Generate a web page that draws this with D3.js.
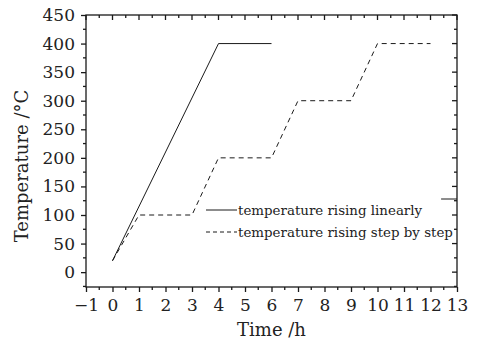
<!DOCTYPE html>
<html>
<head>
<meta charset="utf-8">
<script src="https://cdn.jsdelivr.net/npm/d3@7"></script>
<style>
  body { margin: 0; background: #fff; }
  text { font-family: "DejaVu Serif", serif; fill: #222; }
</style>
</head>
<body>
<div id="chart"></div>
<script>
// Data
const linearTime = [0, 4, 6];
const linearTemp = [20, 400, 400];
const stepTime = [0, 1, 3, 4, 6, 7, 9, 10, 12];
const stepTemp = [20, 100, 100, 200, 200, 300, 300, 400, 400];
// short stray segment at the right edge of the original figure
const strayTime = [12.4, 13];
const strayTemp = [128, 128];
const xTicks = d3.range(-1, 14, 1);
const yTicks = d3.range(0, 451, 50);
const legendLabels = ["temperature rising linearly", "temperature rising step by step"];

const width = 484, height = 345;
const margin = { top: 15, right: 27, bottom: 58, left: 86 };
const iw = width - margin.left - margin.right,
    ih = height - margin.top - margin.bottom;

const svg = d3.select("#chart").append("svg")
    .attr("width", width)
    .attr("height", height);

const g = svg.append("g")
    .attr("transform", `translate(${margin.left},${margin.top})`);

const x = d3.scaleLinear().domain([-1, 13]).range([0, iw]);
const y = d3.scaleLinear().domain([-26, 450]).range([ih, 0]);

const ink = "#1a1a1a";

// frame
g.append("rect")
    .attr("width", iw).attr("height", ih)
    .attr("fill", "none").attr("stroke", ink).attr("stroke-width", 1.3);

// minor ticks
const xMinor = d3.range(-0.5, 13, 1);
const yMinor = d3.range(-25, 450, 50);

// bottom axis (outward)
const xAxis = g.append("g")
    .attr("transform", `translate(0,${ih})`)
    .call(d3.axisBottom(x).tickValues(xTicks).tickSize(5).tickPadding(7)
        .tickFormat(d => d < 0 ? "\u2212" + Math.abs(d) : d));
xAxis.select(".domain").remove();
xAxis.selectAll("line").attr("stroke", ink).attr("stroke-width", 1.3);
xAxis.selectAll("text").attr("font-size", 17).attr("font-family", "DejaVu Serif").attr("fill", ink);
xAxis.selectAll(".minor").data(xMinor).enter().append("line")
    .attr("x1", d => x(d)).attr("x2", d => x(d))
    .attr("y1", 0).attr("y2", 3)
    .attr("stroke", ink).attr("stroke-width", 1.3);

// left axis (outward)
const yAxis = g.append("g")
    .call(d3.axisLeft(y).tickValues(yTicks).tickSize(5).tickPadding(6));
yAxis.select(".domain").remove();
yAxis.selectAll("line").attr("stroke", ink).attr("stroke-width", 1.3);
yAxis.selectAll("text").attr("font-size", 17).attr("font-family", "DejaVu Serif").attr("fill", ink);
yAxis.selectAll(".minor").data(yMinor).enter().append("line")
    .attr("x1", 0).attr("x2", -3)
    .attr("y1", d => y(d)).attr("y2", d => y(d))
    .attr("stroke", ink).attr("stroke-width", 1.3);

// top mirror ticks (inward)
const topTicks = g.append("g");
topTicks.selectAll(".maj").data(xTicks).enter().append("line")
    .attr("x1", d => x(d)).attr("x2", d => x(d))
    .attr("y1", 0).attr("y2", 5)
    .attr("stroke", ink).attr("stroke-width", 1.3);
topTicks.selectAll(".min").data(xMinor).enter().append("line")
    .attr("x1", d => x(d)).attr("x2", d => x(d))
    .attr("y1", 0).attr("y2", 3)
    .attr("stroke", ink).attr("stroke-width", 1.3);

// right mirror ticks (inward)
const rightTicks = g.append("g").attr("transform", `translate(${iw},0)`);
rightTicks.selectAll(".maj").data(yTicks).enter().append("line")
    .attr("x1", 0).attr("x2", -5)
    .attr("y1", d => y(d)).attr("y2", d => y(d))
    .attr("stroke", ink).attr("stroke-width", 1.3);
rightTicks.selectAll(".min").data(yMinor).enter().append("line")
    .attr("x1", 0).attr("x2", -3)
    .attr("y1", d => y(d)).attr("y2", d => y(d))
    .attr("stroke", ink).attr("stroke-width", 1.3);

// lines
const line = d3.line().x(d => x(d[0])).y(d => y(d[1]));

g.append("path")
    .datum(d3.zip(linearTime, linearTemp))
    .attr("d", line)
    .attr("fill", "none").attr("stroke", ink).attr("stroke-width", 1);

g.append("path")
    .datum(d3.zip(stepTime, stepTemp))
    .attr("d", line)
    .attr("fill", "none").attr("stroke", ink).attr("stroke-width", 1)
    .attr("stroke-dasharray", "5,4");

g.append("path")
    .datum(d3.zip(strayTime, strayTemp))
    .attr("d", line)
    .attr("fill", "none").attr("stroke", ink).attr("stroke-width", 1);

// legend
const legend = g.append("g").attr("transform", `translate(${206 - margin.left},${210 - margin.top})`);
legendLabels.forEach((label, i) => {
    const row = legend.append("g").attr("transform", `translate(0,${i * 22})`);
    row.append("line")
        .attr("x1", 0).attr("x2", 31)
        .attr("stroke", ink).attr("stroke-width", 1)
        .attr("stroke-dasharray", i === 1 ? "4,3" : null);
    row.append("text")
        .attr("x", 32).attr("y", 5)
        .attr("font-size", 13.4)
        .text(label);
});

// axis titles
svg.append("text")
    .attr("x", margin.left + iw / 2).attr("y", 336)
    .attr("text-anchor", "middle")
    .attr("font-size", 18)
    .text("Time /h");

svg.append("text")
    .attr("transform", `translate(28,166) rotate(-90)`)
    .attr("text-anchor", "middle")
    .attr("font-size", 18)
    .text("Temperature /\u00B0C");
</script>
</body>
</html>
